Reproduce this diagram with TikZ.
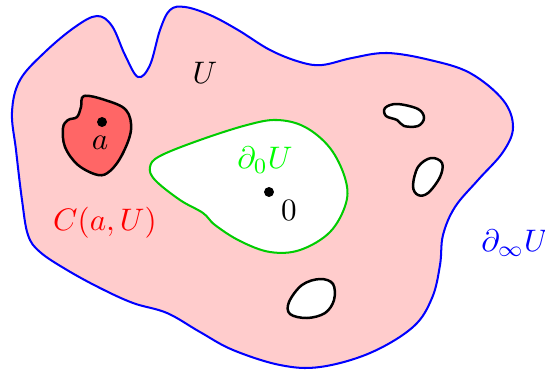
\documentclass[tikz,border=0pt]{standalone}
\begin{document}
\begin{tikzpicture}[x=0.3215pt,y=-0.3215pt,
  bnd/.style={line width=0.65pt,line join=round},
  hole/.style={draw=black,line width=0.8pt,fill=white},
  dotmark/.style={fill=black}]
\useasboundingbox (0,0) rectangle (545,369);
\def\outer{(20,80) (45,52) (75,27) (97,16) (112,26) (125,55) (138,77) (150,65) (160,30) (170,10) (185,7) (210,15) (238,30) (270,50) (300,62) (322,65) (352,58) (387,53) (430,60) (470,73) (503,100) (513,127) (503,152) (478,180) (455,207) (443,235) (440,265) (432,298) (413,327) (370,353) (320,367) (280,365) (233,350) (200,332) (167,313) (133,303) (100,288) (67,270) (40,252) (28,235) (22,200) (16,150) (12,112)}
\def\green{(150,167) (160,156) (200,140) (247,125) (277,120) (305,127) (330,148) (345,178) (346,203) (330,232) (300,250) (270,252) (240,241) (215,225) (203,213) (180,200) (155,180)}
% pink region
\fill[red!20,even odd rule] plot[smooth cycle,tension=0.6] coordinates {\outer}
  plot[smooth cycle,tension=0.6] coordinates {\green};
\draw[bnd,blue] plot[smooth cycle,tension=0.6] coordinates {\outer};
\draw[bnd,green!80!black,fill=white] plot[smooth cycle,tension=0.6] coordinates {\green};
% component of a
\draw[line width=0.8pt,fill=red!60] plot[smooth cycle,tension=0.6] coordinates {(84,96) (105,100) (126,110) (131,130) (122,155) (110,171) (98,175) (78,165) (65,147) (63,128) (68,120) (77,117) (81,107)};
% holes
\draw[hole] plot[smooth cycle,tension=0.6] coordinates {(385,108) (397,104) (418,109) (424,118) (418,126) (404,126) (397,120) (386,116)};
\draw[hole] plot[smooth cycle,tension=0.6] coordinates {(431,158) (442,163) (440,177) (428,193) (418,195) (413,186) (418,167)};
\draw[hole] plot[smooth cycle,tension=0.6] coordinates {(289,302) (302,285) (320,279) (333,284) (334,300) (325,313) (307,318) (290,314)};
% points
\fill[dotmark] (102,122) circle[radius=1.6pt] coordinate (pa);
\fill[dotmark] (269,192) circle[radius=1.6pt] coordinate (p0);
\node (la) at (100,143) {$a$};
\node (l0) at (289,210) {$0$};
\node (lU) at (205,73) {$U$};
\node[text=green] (ld0) at (265,160) {$\partial_0 U$};
\node[text=red] (lC) at (105,223) {$C(a,U)$};
\node[text=blue] (ldi) at (515,243) {$\partial_\infty U$};
\end{tikzpicture}
\end{document}
